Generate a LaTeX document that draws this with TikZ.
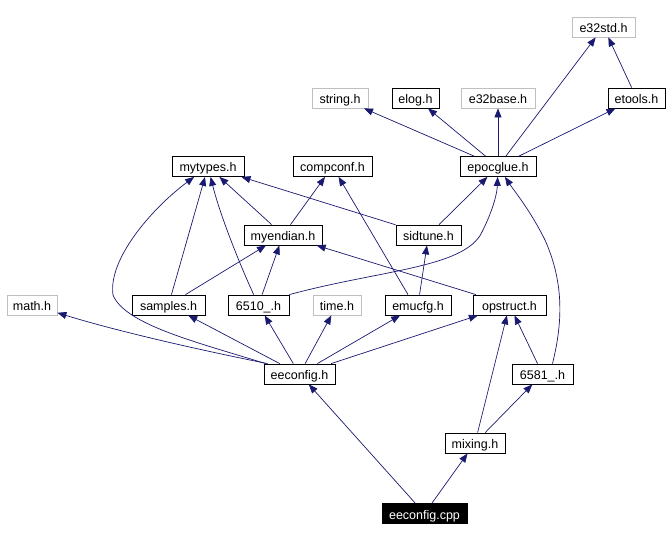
\documentclass[tikz,border=0pt]{standalone}
\usepackage{fontspec}
\setmainfont{Liberation Sans}
\usetikzlibrary{arrows.meta}
\definecolor{edgeblue}{HTML}{191970}
\definecolor{missgray}{HTML}{BFBFBF}
\tikzset{arrow/.style={->, >={Triangle[length=9pt,width=7pt]}, draw=edgeblue, line width=0.7pt}}
\tikzset{file/.style={draw, line width=0.8pt, inner sep=0pt, minimum height=20pt, text height=11pt, text depth=0pt, font=\fontsize{12.5}{14}\selectfont}}
\tikzset{missing/.style={file, draw=missgray}}
\tikzset{root/.style={file, fill=black, text=white}}

\begin{document}
\begin{tikzpicture}[x=1pt, y=-1pt]
      \useasboundingbox (0,0) rectangle (669,540);

      \node[missing, minimum width=63] (e32std) at (603.5, 27) {e32std.h};
      \node[missing, minimum width=56] (stringh) at (340, 98) {string.h};
      \node[file, minimum width=47] (elog) at (415.5, 98) {elog.h};
      \node[missing, minimum width=74] (e32base) at (498, 98) {e32base.h};
      \node[file, minimum width=57] (etools) at (636.5, 98) {etools.h};
      \node[file, minimum width=76] (epocglue) at (498, 166.5) {epocglue.h};
      \node[file, minimum width=79] (compconf) at (332.5, 166.5) {compconf.h};
      \node[file, minimum width=72] (mytypes) at (208, 166.5) {mytypes.h};
      \node[file, minimum width=78] (myendian) at (283, 235) {myendian.h};
      \node[file, minimum width=65] (sidtune) at (428.5, 235) {sidtune.h};
      \node[missing, minimum width=50] (mathh) at (32, 305) {math.h};
      \node[file, minimum width=73] (samples) at (168.5, 305) {samples.h};
      \node[file, minimum width=61] (h6510) at (258.5, 305) {6510\_.h};
      \node[missing, minimum width=48] (timeh) at (337, 305) {time.h};
      \node[file, minimum width=66] (emucfg) at (418, 305) {emucfg.h};
      \node[file, minimum width=73] (opstruct) at (509.5, 305) {opstruct.h};
      \node[file, minimum width=71] (eeconfigh) at (299.5, 374) {eeconfig.h};
      \node[file, minimum width=61] (h6581) at (542.5, 374) {6581\_.h};
      \node[file, minimum width=60] (mixing) at (475, 443) {mixing.h};
      \node[root, minimum width=85] (eeconfigcpp) at (424.5, 513.5) {eeconfig.cpp};

      \draw[arrow] (eeconfigcpp) -- (eeconfigh);
      \draw[arrow] (eeconfigcpp) -- (mixing);
      \draw[arrow] (mixing) -- (opstruct);
      \draw[arrow] (mixing) -- (h6581);
      \draw[arrow] (h6581) -- (opstruct);
      \draw[arrow] ([xshift=10]h6581.north) .. controls (562, 325) and (565, 285) .. (545, 240)
            .. controls (530, 210) and (515, 192) .. (epocglue);

      \draw[arrow] ([xshift=4]eeconfigh.north west) .. controls (200, 350) and (120, 332) .. (mathh);
      \draw[arrow] (eeconfigh) -- (samples);
      \draw[arrow] (eeconfigh) -- (h6510);
      \draw[arrow] (eeconfigh) -- (timeh);
      \draw[arrow] (eeconfigh) -- (emucfg);
      \draw[arrow] (eeconfigh) -- (opstruct);
      \draw[arrow] ([xshift=2]eeconfigh.north west) .. controls (200, 343) and (125, 325) .. (113, 295)
            .. controls (108, 260) and (150, 210) .. (mytypes);

      \draw[arrow] (samples) -- (mytypes);
      \draw[arrow] (samples) -- (myendian);
      \draw[arrow] (h6510) .. controls (240, 265) and (220, 215) .. (mytypes);
      \draw[arrow] (h6510) -- (myendian);
      \draw[arrow] (h6510.north east) .. controls (380, 270) and (465, 268) .. (482, 232)
            .. controls (492, 212) and (497, 195) .. (epocglue);
      \draw[arrow] (emucfg) -- (sidtune);
      \draw[arrow] ([xshift=-10]emucfg.north) -- (compconf);
      \draw[arrow] (opstruct) -- (myendian);

      \draw[arrow] (myendian) -- (mytypes);
      \draw[arrow] (myendian) -- (compconf);
      \draw[arrow] (sidtune) -- (mytypes);
      \draw[arrow] (sidtune) -- (epocglue);

      \draw[arrow] (epocglue) -- (stringh);
      \draw[arrow] (epocglue) -- (elog);
      \draw[arrow] (epocglue) -- (e32base);
      \draw[arrow] (epocglue) -- (e32std);
      \draw[arrow] (epocglue) -- (etools);
      \draw[arrow] (etools) -- (e32std);
    \end{tikzpicture}
\end{document}
